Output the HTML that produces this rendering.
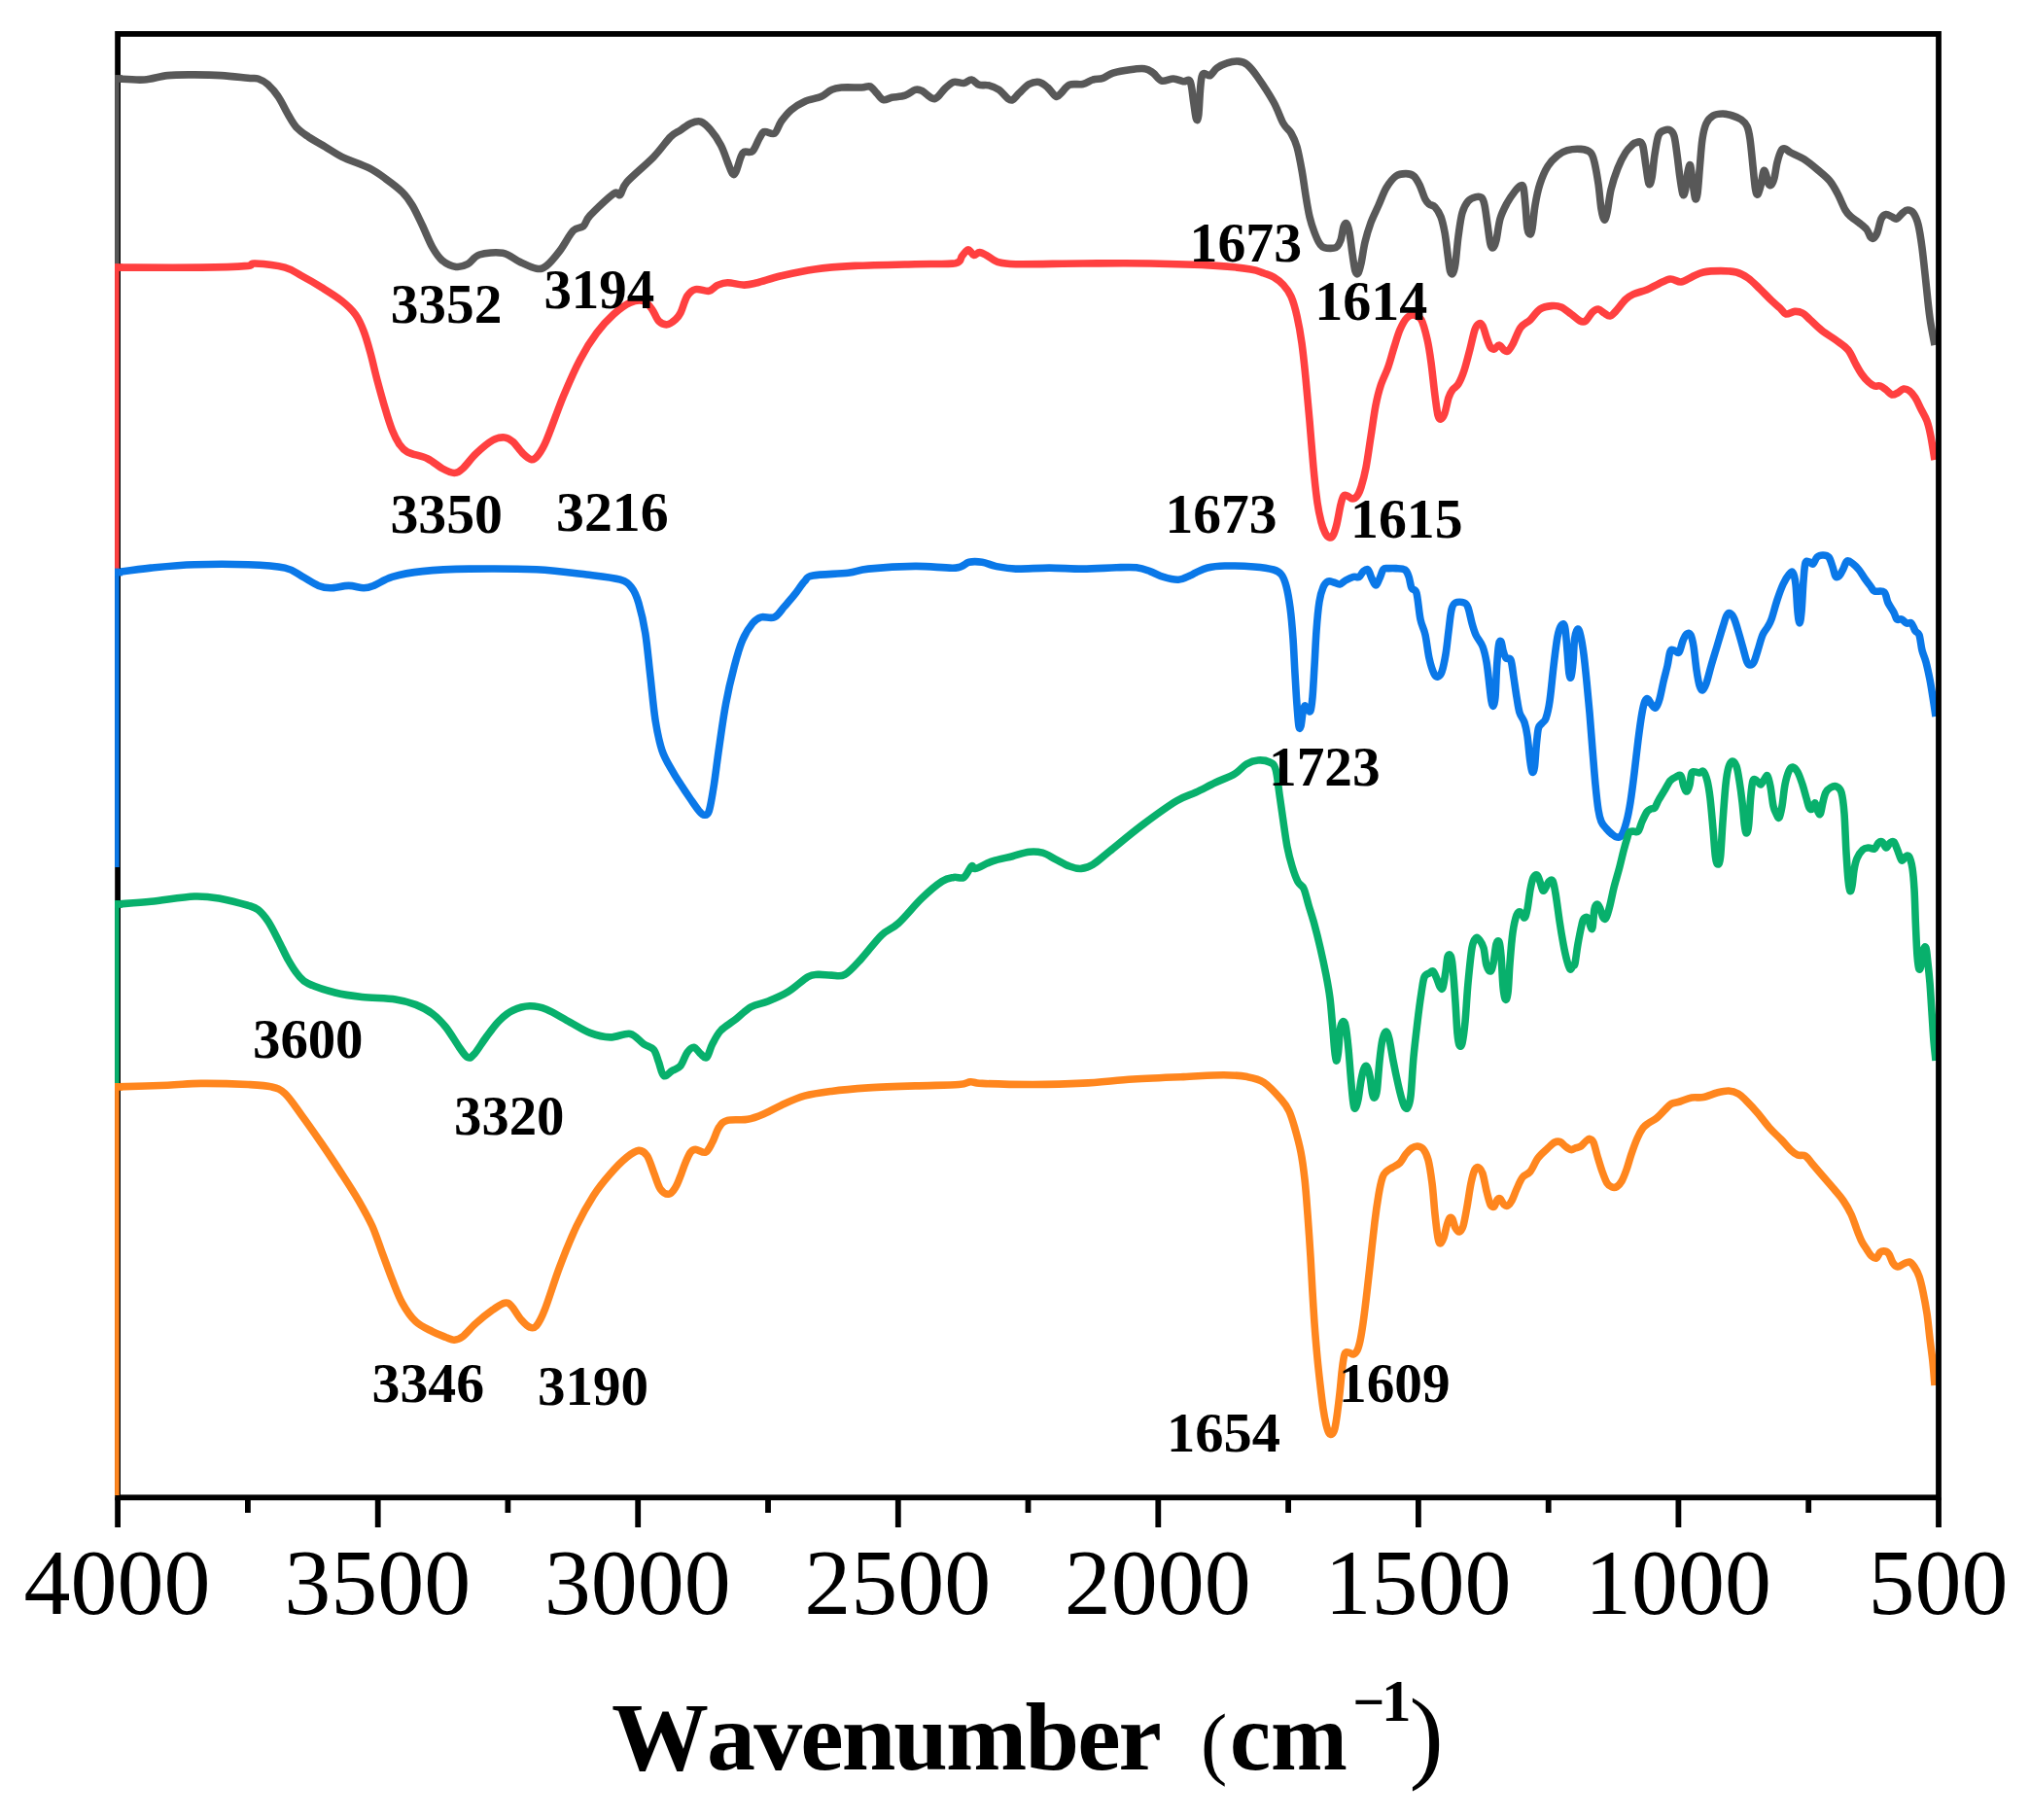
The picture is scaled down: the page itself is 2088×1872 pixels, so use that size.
<!DOCTYPE html>
<html lang="en"><head><meta charset="utf-8"><title>FTIR spectra</title>
<style>html,body{margin:0;padding:0;background:#fff}body{width:2088px;height:1872px;overflow:hidden}svg{display:block}text{font-family:"Liberation Serif",serif;fill:#000}.lab{font-weight:bold;font-size:56px}.tick{font-size:96px;text-anchor:middle}.title{font-weight:bold;font-size:100px}</style></head><body>
<svg width="2088" height="1872" viewBox="0 0 2088 1872">
<rect width="2088" height="1872" fill="#fff"/>
<defs><clipPath id="pc"><rect x="118.1" y="34.9" width="1875.9" height="1505.4"/></clipPath></defs>
<path d="M121.1 1540.3 V1571.0M254.9 1540.3 V1556.0M388.7 1540.3 V1571.0M522.4 1540.3 V1556.0M656.2 1540.3 V1571.0M790.0 1540.3 V1556.0M923.8 1540.3 V1571.0M1057.5 1540.3 V1556.0M1191.3 1540.3 V1571.0M1325.1 1540.3 V1556.0M1458.9 1540.3 V1571.0M1592.7 1540.3 V1556.0M1726.4 1540.3 V1571.0M1860.2 1540.3 V1556.0M1994.0 1540.3 V1571.0" stroke="#000" stroke-width="5.8" fill="none"/>
<g clip-path="url(#pc)" fill="none" stroke-linejoin="round" stroke-linecap="butt">
<path d="M120.7 81.0C125.3 81.2 139.7 82.6 148.3 82.0C156.9 81.5 163.8 78.4 172.4 77.6C181.0 76.7 190.8 76.9 200.0 76.9C209.2 76.9 218.4 77.0 227.6 77.6C236.8 78.1 248.9 79.7 255.2 80.3C261.5 80.9 262.1 79.9 265.5 81.0C269.0 82.1 272.4 84.2 275.9 87.2C279.3 90.3 282.8 94.1 286.2 99.3C289.7 104.4 293.4 112.9 296.6 118.2C299.7 123.6 301.7 127.6 305.2 131.3C308.6 135.1 312.4 137.4 317.2 140.7C322.1 143.9 328.7 147.6 334.5 151.0C340.2 154.4 344.3 157.7 351.7 161.3C359.2 165.0 371.8 169.0 379.3 172.7C386.8 176.5 390.8 179.6 396.6 183.8C402.3 187.9 409.2 193.0 413.8 197.6C418.4 202.1 420.7 205.6 424.1 211.3C427.6 217.1 431.0 224.9 434.5 232.0C437.9 239.2 441.4 248.4 444.8 254.4C448.3 260.5 451.1 264.9 455.2 268.2C459.2 271.6 464.7 273.9 469.0 274.4C473.3 275.0 477.0 273.8 481.0 271.7C485.1 269.6 487.1 263.9 493.1 262.0C499.1 260.1 510.3 259.1 517.2 260.3C524.1 261.5 528.7 266.6 534.5 269.3C540.2 271.9 547.1 275.5 551.7 276.2C556.3 276.9 558.0 276.5 562.1 273.4C566.1 270.4 571.3 263.9 575.9 257.9C580.5 251.9 585.6 241.4 589.7 237.2C593.7 233.0 597.1 235.3 600.0 232.7C602.9 230.1 601.7 227.3 606.9 221.7C612.1 216.1 625.9 202.8 631.0 199.3C636.2 195.7 635.6 202.3 637.9 200.3C640.2 198.3 639.1 193.7 644.8 187.2C650.6 180.7 664.9 169.1 672.4 161.3C679.9 153.6 685.1 145.3 689.7 140.7C694.3 136.1 696.6 136.1 700.0 133.8C703.4 131.5 706.9 128.3 710.3 126.9C713.8 125.4 717.2 124.0 720.7 125.1C724.1 126.3 727.6 129.7 731.0 133.8C734.5 137.8 738.5 143.8 741.4 149.3C744.3 154.7 746.3 161.6 748.3 166.5C750.3 171.4 752.0 176.9 753.4 178.6C754.9 180.3 755.5 179.7 756.9 176.9C758.3 174.0 760.6 164.8 762.1 161.3C763.5 157.9 763.5 157.1 765.5 156.2C767.5 155.2 771.6 157.8 774.1 155.5C776.7 153.2 779.0 145.7 781.0 142.4C783.0 139.0 783.6 136.3 786.2 135.5C788.8 134.6 793.7 138.9 796.6 137.2C799.4 135.5 800.6 129.2 803.4 125.1C806.3 121.1 809.8 116.5 813.8 113.1C817.8 109.6 822.4 106.7 827.6 104.4C832.8 102.1 840.2 101.3 844.8 99.3C849.4 97.3 851.7 93.9 855.2 92.4C858.6 90.8 860.3 90.4 865.5 90.0C870.7 89.6 881.3 90.1 886.2 90.0C891.1 89.8 892.2 88.0 894.8 88.9C897.4 89.9 899.4 93.5 901.7 95.8C904.0 98.1 906.0 102.0 908.6 102.7C911.2 103.5 913.5 101.1 917.2 100.3C921.0 99.6 927.0 99.6 931.0 98.2C935.1 96.9 938.5 93.2 941.4 92.4C944.3 91.6 945.4 92.0 948.3 93.4C951.1 94.9 956.0 99.9 958.6 101.0C961.2 102.1 961.5 102.0 963.8 100.3C966.1 98.6 969.5 93.3 972.4 90.7C975.3 88.0 977.9 85.3 981.0 84.4C984.2 83.6 988.3 85.9 991.4 85.5C994.4 85.1 996.7 81.7 999.3 82.0C1001.9 82.3 1003.9 86.2 1006.9 87.2C1009.9 88.2 1013.8 87.0 1017.2 87.9C1020.7 88.8 1024.4 90.2 1027.6 92.4C1030.7 94.6 1033.9 99.3 1036.2 101.0C1038.5 102.7 1039.4 103.6 1041.4 102.7C1043.4 101.9 1045.4 98.5 1048.3 95.8C1051.1 93.1 1055.2 88.4 1058.6 86.5C1062.1 84.6 1065.8 83.9 1069.0 84.4C1072.1 85.0 1074.7 87.5 1077.6 90.0C1080.5 92.4 1083.9 98.3 1086.2 99.3C1088.5 100.3 1089.1 97.8 1091.4 95.8C1093.7 93.8 1096.3 88.8 1100.0 87.2C1103.7 85.7 1109.8 87.4 1113.8 86.5C1117.8 85.7 1120.7 83.1 1124.1 82.0C1127.6 81.0 1131.0 81.5 1134.5 80.3C1137.9 79.2 1140.2 76.6 1144.8 75.1C1149.4 73.7 1156.6 72.4 1162.1 71.7C1167.5 70.9 1173.6 70.1 1177.6 70.7C1181.6 71.2 1183.3 73.1 1186.2 75.1C1189.1 77.2 1191.4 82.1 1194.8 83.1C1198.3 84.0 1203.2 80.9 1206.9 81.0C1210.6 81.1 1214.4 83.3 1217.2 83.8C1220.1 84.2 1222.4 80.3 1224.1 83.8C1225.9 87.2 1226.6 98.1 1227.6 104.4C1228.6 110.8 1229.5 119.4 1230.3 121.7C1231.2 124.0 1231.8 125.4 1232.8 118.2C1233.7 111.1 1234.2 85.4 1236.2 78.6C1238.2 71.8 1242.2 79.0 1244.8 77.6C1247.4 76.1 1248.9 72.1 1251.7 70.0C1254.6 67.8 1258.3 65.9 1262.1 64.8C1265.8 63.6 1270.7 62.8 1274.1 63.1C1277.6 63.4 1279.6 63.9 1282.8 66.5C1285.9 69.1 1288.6 72.2 1293.1 78.6C1297.6 85.0 1305.5 96.9 1310.0 105.0C1314.5 113.1 1317.0 121.7 1320.0 127.0C1323.0 132.3 1325.7 133.0 1328.0 137.0C1330.3 141.0 1332.2 144.7 1334.0 151.0C1335.8 157.3 1337.5 166.7 1339.0 175.0C1340.5 183.3 1341.7 193.0 1343.0 201.0C1344.3 209.0 1345.5 216.7 1347.0 223.0C1348.5 229.3 1350.3 234.5 1352.0 239.0C1353.7 243.5 1355.3 247.4 1357.0 250.0C1358.7 252.6 1359.2 253.8 1362.0 254.6C1364.8 255.4 1371.2 255.9 1374.0 254.6C1376.8 253.3 1377.7 250.6 1379.0 247.0C1380.3 243.4 1381.0 235.8 1382.0 233.0C1383.0 230.2 1384.0 229.0 1385.0 230.0C1386.0 231.0 1387.0 233.8 1388.0 239.0C1389.0 244.2 1390.0 254.3 1391.0 261.0C1392.0 267.7 1393.0 275.7 1394.0 279.0C1395.0 282.3 1396.0 282.3 1397.0 281.0C1398.0 279.7 1398.8 276.3 1400.0 271.0C1401.2 265.7 1402.3 256.0 1404.0 249.0C1405.7 242.0 1407.7 235.3 1410.0 229.0C1412.3 222.7 1415.3 217.0 1418.0 211.0C1420.7 205.0 1423.0 198.0 1426.0 193.0C1429.0 188.0 1432.7 183.4 1436.0 181.0C1439.3 178.6 1443.0 178.6 1446.0 178.6C1449.0 178.6 1451.7 179.1 1454.0 181.0C1456.3 182.9 1458.0 186.0 1460.0 190.0C1462.0 194.0 1464.3 201.7 1466.0 205.0C1467.7 208.3 1468.3 208.7 1470.0 210.0C1471.7 211.3 1474.0 210.8 1476.0 213.0C1478.0 215.2 1480.3 218.7 1482.0 223.0C1483.7 227.3 1484.8 232.7 1486.0 239.0C1487.2 245.3 1488.1 254.3 1489.0 261.0C1489.9 267.7 1490.7 275.7 1491.6 279.0C1492.5 282.3 1493.5 282.3 1494.4 281.0C1495.3 279.7 1496.1 277.3 1497.0 271.0C1497.9 264.7 1498.8 251.7 1500.0 243.0C1501.2 234.3 1502.3 225.0 1504.0 219.0C1505.7 213.0 1507.7 209.7 1510.0 207.0C1512.3 204.3 1515.7 203.2 1518.0 202.6C1520.3 202.0 1522.5 202.0 1524.0 203.4C1525.5 204.8 1526.0 206.4 1527.0 211.0C1528.0 215.6 1529.0 224.3 1530.0 231.0C1531.0 237.7 1532.0 247.1 1533.0 251.0C1534.0 254.9 1535.0 255.3 1536.0 254.6C1537.0 253.9 1537.8 251.9 1539.0 247.0C1540.2 242.1 1541.2 231.3 1543.0 225.0C1544.8 218.7 1547.5 213.7 1550.0 209.0C1552.5 204.3 1555.7 200.0 1558.0 197.0C1560.3 194.0 1562.5 191.7 1564.0 191.0C1565.5 190.3 1566.2 189.7 1567.0 193.0C1567.8 196.3 1568.3 204.0 1569.0 211.0C1569.7 218.0 1570.2 230.0 1571.0 235.0C1571.8 240.0 1572.8 241.0 1573.6 241.0C1574.4 241.0 1575.1 240.0 1576.0 235.0C1576.9 230.0 1577.7 218.7 1579.0 211.0C1580.3 203.3 1581.8 195.7 1584.0 189.0C1586.2 182.3 1589.0 175.8 1592.0 171.0C1595.0 166.2 1598.7 162.7 1602.0 160.0C1605.3 157.3 1608.0 155.7 1612.0 154.6C1616.0 153.5 1622.0 153.0 1626.0 153.4C1630.0 153.8 1633.7 154.7 1636.0 157.0C1638.3 159.3 1638.7 161.7 1640.0 167.0C1641.3 172.3 1642.8 181.0 1644.0 189.0C1645.2 197.0 1646.0 208.8 1647.0 215.0C1648.0 221.2 1649.0 225.3 1650.0 226.0C1651.0 226.7 1651.8 224.2 1653.0 219.0C1654.2 213.8 1655.2 202.7 1657.0 195.0C1658.8 187.3 1661.5 179.3 1664.0 173.0C1666.5 166.7 1669.3 161.2 1672.0 157.0C1674.7 152.8 1678.3 149.7 1680.0 148.0C1681.7 146.3 1680.8 147.3 1682.0 147.0C1683.2 146.7 1685.7 145.3 1687.0 146.0C1688.3 146.7 1689.0 146.8 1690.0 151.0C1691.0 155.2 1692.0 164.7 1693.0 171.0C1694.0 177.3 1695.0 187.0 1696.0 189.0C1697.0 191.0 1698.0 188.0 1699.0 183.0C1700.0 178.0 1700.8 166.3 1702.0 159.0C1703.2 151.7 1704.3 143.2 1706.0 139.0C1707.7 134.8 1710.0 134.8 1712.0 134.0C1714.0 133.2 1716.3 133.0 1718.0 134.0C1719.7 135.0 1720.8 135.8 1722.0 140.0C1723.2 144.2 1724.0 151.8 1725.0 159.0C1726.0 166.2 1727.0 176.2 1728.0 183.0C1729.0 189.8 1730.1 198.0 1731.0 200.0C1731.9 202.0 1732.8 198.8 1733.6 195.0C1734.4 191.2 1735.2 181.2 1736.0 177.0C1736.8 172.8 1737.8 168.3 1738.6 170.0C1739.4 171.7 1740.2 181.3 1741.0 187.0C1741.8 192.7 1742.8 202.0 1743.6 204.0C1744.4 206.0 1745.2 204.5 1746.0 199.0C1746.8 193.5 1747.6 180.3 1748.4 171.0C1749.2 161.7 1749.9 150.3 1751.0 143.0C1752.1 135.7 1753.2 131.0 1755.0 127.0C1756.8 123.0 1759.2 120.7 1762.0 119.0C1764.8 117.3 1768.7 117.0 1772.0 117.0C1775.3 117.0 1778.8 118.0 1782.0 119.0C1785.2 120.0 1788.5 121.2 1791.0 123.0C1793.5 124.8 1795.5 126.7 1797.0 130.0C1798.5 133.3 1799.0 136.2 1800.0 143.0C1801.0 149.8 1802.1 162.3 1803.0 171.0C1803.9 179.7 1804.8 190.2 1805.6 195.0C1806.4 199.8 1807.1 200.7 1808.0 200.0C1808.9 199.3 1810.0 195.0 1811.0 191.0C1812.0 187.0 1813.1 178.0 1814.0 176.0C1814.9 174.0 1815.6 176.8 1816.4 179.0C1817.2 181.2 1818.1 187.2 1819.0 189.0C1819.9 190.8 1821.0 191.0 1822.0 190.0C1823.0 189.0 1824.0 186.8 1825.0 183.0C1826.0 179.2 1826.8 171.7 1828.0 167.0C1829.2 162.3 1830.7 157.3 1832.0 155.0C1833.3 152.7 1834.3 152.7 1836.0 153.0C1837.7 153.3 1838.7 155.2 1842.0 157.0C1845.3 158.8 1851.3 161.0 1856.0 164.0C1860.7 167.0 1865.7 171.3 1870.0 175.0C1874.3 178.7 1878.7 182.0 1882.0 186.0C1885.3 190.0 1887.3 194.0 1890.0 199.0C1892.7 204.0 1895.7 212.0 1898.0 216.0C1900.3 220.0 1901.7 220.8 1904.0 223.0C1906.3 225.2 1909.3 226.8 1912.0 229.0C1914.7 231.2 1918.0 233.5 1920.0 236.0C1922.0 238.5 1922.8 242.5 1924.0 244.0C1925.2 245.5 1925.8 245.8 1927.0 245.0C1928.2 244.2 1929.7 242.3 1931.0 239.0C1932.3 235.7 1933.5 228.1 1935.0 225.0C1936.5 221.9 1938.2 220.9 1940.0 220.6C1941.8 220.3 1944.2 222.3 1946.0 223.0C1947.8 223.7 1949.2 225.7 1951.0 225.0C1952.8 224.3 1955.2 220.5 1957.0 219.0C1958.8 217.5 1960.2 216.0 1962.0 216.0C1963.8 216.0 1966.2 216.5 1968.0 219.0C1969.8 221.5 1971.5 225.0 1973.0 231.0C1974.5 237.0 1975.7 245.0 1977.0 255.0C1978.3 265.0 1979.7 279.0 1981.0 291.0C1982.3 303.0 1983.5 316.3 1985.0 327.0C1986.5 337.7 1989.2 350.3 1990.0 355.0" stroke="#585858" stroke-width="7.6"/>
<path d="M120.7 275.1C135.1 275.1 184.5 275.4 206.9 275.1C229.3 274.9 246.0 274.1 255.2 273.4C262.1 272.7 255.7 270.7 262.1 271.0C268.4 271.3 285.1 273.0 293.1 275.1C301.1 277.3 304.0 280.3 310.3 283.8C316.7 287.2 324.1 291.5 331.0 295.8C337.9 300.1 346.0 305.0 351.7 309.6C357.5 314.2 361.8 318.2 365.5 323.4C369.3 328.6 371.6 334.0 374.1 340.7C376.7 347.3 378.7 354.7 381.0 363.1C383.3 371.4 385.3 380.9 387.9 390.7C390.5 400.4 394.0 413.1 396.6 421.7C399.1 430.3 401.1 436.6 403.4 442.4C405.7 448.1 407.8 452.4 410.3 456.2C412.9 459.9 414.1 462.2 419.0 464.8C423.9 467.4 433.6 468.8 439.7 471.7C445.7 474.6 450.6 479.6 455.2 482.0C459.8 484.5 463.8 486.5 467.2 486.5C470.7 486.5 472.1 485.4 475.9 482.0C479.6 478.7 484.5 471.4 489.7 466.5C494.8 461.6 502.0 455.5 506.9 452.7C511.8 450.0 515.5 449.7 519.0 450.0C522.4 450.3 524.4 451.7 527.6 454.4C530.7 457.2 534.8 463.5 537.9 466.5C541.1 469.6 544.0 472.4 546.6 472.7C549.1 473.0 550.9 471.6 553.4 468.2C556.0 464.9 557.8 462.8 562.1 452.7C566.4 442.7 573.6 421.7 579.3 407.9C585.1 394.1 590.8 380.9 596.6 370.0C602.3 359.0 608.0 350.1 613.8 342.4C619.5 334.6 625.3 328.6 631.0 323.4C636.8 318.2 643.1 313.6 648.3 311.3C653.4 309.0 658.3 308.5 662.1 309.6C665.8 310.8 668.1 314.8 670.7 318.2C673.3 321.7 675.0 327.7 677.6 330.3C680.2 332.9 683.3 334.0 686.2 333.8C689.1 333.5 692.5 330.6 694.8 328.6C697.1 326.6 698.0 325.7 700.0 321.7C702.0 317.7 704.3 308.5 706.9 304.4C709.5 300.4 711.8 298.4 715.5 297.6C719.3 296.7 725.6 300.0 729.3 299.3C733.0 298.6 734.8 294.9 737.9 293.4C741.1 292.0 743.7 290.7 748.3 290.7C752.9 290.6 760.3 293.1 765.5 293.1C770.7 293.1 773.0 292.2 779.3 290.7C785.6 289.1 793.7 286.1 803.4 283.8C813.2 281.5 825.3 278.6 837.9 276.9C850.6 275.1 862.1 274.3 879.3 273.4C896.6 272.6 924.1 272.1 941.4 271.7C958.6 271.2 974.7 272.1 982.8 270.7C989.7 269.2 987.5 265.4 989.7 263.1C991.8 260.8 993.9 257.0 995.9 256.9C997.9 256.7 999.8 261.9 1001.7 262.4C1003.7 262.8 1005.3 259.5 1007.6 259.6C1009.9 259.7 1012.5 261.5 1015.5 263.1C1018.6 264.7 1021.0 267.8 1025.9 269.3C1030.7 270.7 1030.2 271.4 1044.8 271.7C1059.5 272.0 1090.8 271.1 1113.8 271.0C1136.8 270.9 1159.8 270.6 1182.8 271.0C1205.7 271.4 1234.5 272.4 1251.7 273.4C1269.0 274.4 1278.2 275.6 1286.2 276.9C1294.3 278.1 1296.0 279.6 1300.0 281.0C1304.0 282.4 1306.7 283.0 1310.0 285.0C1313.3 287.0 1317.0 289.7 1320.0 293.0C1323.0 296.3 1325.7 299.7 1328.0 305.0C1330.3 310.3 1332.2 317.0 1334.0 325.0C1335.8 333.0 1337.5 342.3 1339.0 353.0C1340.5 363.7 1341.7 375.7 1343.0 389.0C1344.3 402.3 1345.7 417.7 1347.0 433.0C1348.3 448.3 1349.7 467.0 1351.0 481.0C1352.3 495.0 1353.7 507.7 1355.0 517.0C1356.3 526.3 1357.7 531.8 1359.0 537.0C1360.3 542.2 1361.7 545.4 1363.0 548.0C1364.3 550.6 1365.7 552.1 1367.0 552.6C1368.3 553.1 1369.7 553.3 1371.0 551.0C1372.3 548.7 1373.7 544.3 1375.0 539.0C1376.3 533.7 1377.8 523.8 1379.0 519.0C1380.2 514.2 1380.8 511.5 1382.0 510.0C1383.2 508.5 1384.5 509.5 1386.0 510.0C1387.5 510.5 1389.3 513.0 1391.0 513.0C1392.7 513.0 1394.5 512.0 1396.0 510.0C1397.5 508.0 1398.5 505.8 1400.0 501.0C1401.5 496.2 1403.3 489.7 1405.0 481.0C1406.7 472.3 1408.3 459.7 1410.0 449.0C1411.7 438.3 1413.3 425.7 1415.0 417.0C1416.7 408.3 1417.8 403.7 1420.0 397.0C1422.2 390.3 1425.7 383.7 1428.0 377.0C1430.3 370.3 1432.0 363.3 1434.0 357.0C1436.0 350.7 1437.8 344.0 1440.0 339.0C1442.2 334.0 1444.7 329.5 1447.0 327.0C1449.3 324.5 1451.5 323.7 1454.0 324.0C1456.5 324.3 1459.7 324.8 1462.0 329.0C1464.3 333.2 1466.3 341.7 1468.0 349.0C1469.7 356.3 1470.7 363.3 1472.0 373.0C1473.3 382.7 1474.8 398.0 1476.0 407.0C1477.2 416.0 1478.0 423.0 1479.0 427.0C1480.0 431.0 1480.8 431.3 1482.0 431.0C1483.2 430.7 1484.7 428.7 1486.0 425.0C1487.3 421.3 1488.7 413.0 1490.0 409.0C1491.3 405.0 1492.3 403.3 1494.0 401.0C1495.7 398.7 1498.0 398.3 1500.0 395.0C1502.0 391.7 1504.0 387.0 1506.0 381.0C1508.0 375.0 1510.2 366.0 1512.0 359.0C1513.8 352.0 1515.5 343.3 1517.0 339.0C1518.5 334.7 1519.7 333.7 1521.0 333.0C1522.3 332.3 1523.7 332.7 1525.0 335.0C1526.3 337.3 1527.7 343.3 1529.0 347.0C1530.3 350.7 1531.7 355.0 1533.0 357.0C1534.3 359.0 1535.5 359.3 1537.0 359.0C1538.5 358.7 1540.3 354.8 1542.0 355.0C1543.7 355.2 1545.5 359.0 1547.0 360.0C1548.5 361.0 1549.5 362.0 1551.0 361.0C1552.5 360.0 1553.8 358.0 1556.0 354.0C1558.2 350.0 1561.0 341.2 1564.0 337.0C1567.0 332.8 1570.7 332.2 1574.0 329.0C1577.3 325.8 1580.3 320.4 1584.0 318.0C1587.7 315.6 1592.3 314.9 1596.0 314.6C1599.7 314.3 1602.7 314.6 1606.0 316.0C1609.3 317.4 1612.8 320.7 1616.0 323.0C1619.2 325.3 1622.5 328.8 1625.0 330.0C1627.5 331.2 1628.8 331.5 1631.0 330.0C1633.2 328.5 1635.8 323.0 1638.0 321.0C1640.2 319.0 1642.0 317.8 1644.0 318.0C1646.0 318.2 1648.0 320.8 1650.0 322.0C1652.0 323.2 1654.0 325.3 1656.0 325.0C1658.0 324.7 1659.3 322.8 1662.0 320.0C1664.7 317.2 1669.0 310.9 1672.0 308.0C1675.0 305.1 1676.3 304.3 1680.0 302.6C1683.7 300.9 1689.7 299.8 1694.0 298.0C1698.3 296.2 1702.0 293.8 1706.0 292.0C1710.0 290.2 1714.2 287.3 1718.0 287.0C1721.8 286.7 1725.3 290.3 1729.0 290.0C1732.7 289.7 1736.2 286.7 1740.0 285.0C1743.8 283.3 1747.0 281.1 1752.0 280.0C1757.0 278.9 1764.3 278.6 1770.0 278.6C1775.7 278.6 1781.3 278.8 1786.0 280.0C1790.7 281.2 1794.0 283.2 1798.0 286.0C1802.0 288.8 1806.0 293.2 1810.0 297.0C1814.0 300.8 1818.5 305.7 1822.0 309.0C1825.5 312.3 1828.5 314.7 1831.0 317.0C1833.5 319.3 1834.5 322.4 1837.0 323.0C1839.5 323.6 1843.2 320.6 1846.0 320.4C1848.8 320.2 1851.3 320.6 1854.0 322.0C1856.7 323.4 1858.7 326.0 1862.0 329.0C1865.3 332.0 1869.3 336.3 1874.0 340.0C1878.7 343.7 1885.5 347.7 1890.0 351.0C1894.5 354.3 1898.0 356.3 1901.0 360.0C1904.0 363.7 1905.7 368.8 1908.0 373.0C1910.3 377.2 1912.7 381.7 1915.0 385.0C1917.3 388.3 1919.8 391.0 1922.0 393.0C1924.2 395.0 1926.0 396.3 1928.0 397.0C1930.0 397.7 1932.0 396.3 1934.0 397.0C1936.0 397.7 1938.0 399.5 1940.0 401.0C1942.0 402.5 1944.0 405.5 1946.0 406.0C1948.0 406.5 1950.0 405.0 1952.0 404.0C1954.0 403.0 1956.0 400.3 1958.0 400.0C1960.0 399.7 1962.0 400.5 1964.0 402.0C1966.0 403.5 1968.0 405.8 1970.0 409.0C1972.0 412.2 1974.0 417.0 1976.0 421.0C1978.0 425.0 1980.3 428.3 1982.0 433.0C1983.7 437.7 1984.7 442.3 1986.0 449.0C1987.3 455.7 1989.3 469.0 1990.0 473.0" stroke="#ff4040" stroke-width="7.6"/>
<path d="M120.7 588.6C126.4 587.8 142.0 585.4 155.2 584.1C168.4 582.8 183.3 581.2 200.0 580.7C216.7 580.1 239.7 580.1 255.2 580.7C270.7 581.2 283.9 582.1 293.1 584.1C302.3 586.1 304.6 589.7 310.3 592.7C316.1 595.8 322.7 600.4 327.6 602.4C332.5 604.4 334.5 604.8 339.7 604.8C344.8 604.8 352.9 602.4 358.6 602.4C364.4 602.4 369.8 604.8 374.1 604.8C378.4 604.8 379.6 604.3 384.5 602.4C389.4 600.5 395.1 595.9 403.4 593.4C411.8 590.9 421.3 588.9 434.5 587.6C447.7 586.2 463.2 585.4 482.8 585.1C502.3 584.9 531.6 584.9 551.7 585.8C571.8 586.8 589.1 589.3 603.4 591.0C617.8 592.7 630.2 593.9 637.9 596.2C645.7 598.5 646.8 600.8 650.0 604.8C653.2 608.8 654.6 612.6 656.9 620.3C659.2 628.1 661.8 638.7 663.8 651.3C665.8 664.0 667.2 681.2 669.0 696.2C670.7 711.1 672.1 728.4 674.1 741.0C676.1 753.6 678.2 763.4 681.0 772.0C683.9 780.7 688.2 787.0 691.4 792.7C694.5 798.5 696.8 801.6 700.0 806.5C703.2 811.4 707.2 817.4 710.3 822.0C713.5 826.6 716.7 831.4 719.0 834.1C721.3 836.8 722.4 838.2 724.1 838.2C725.9 838.2 727.6 839.4 729.3 834.1C731.0 828.8 732.8 817.4 734.5 806.5C736.2 795.6 737.6 782.4 739.7 768.6C741.7 754.8 744.0 737.6 746.6 723.8C749.1 710.0 752.3 696.7 755.2 685.8C758.0 674.9 760.6 665.7 763.8 658.2C767.0 650.8 771.0 644.9 774.1 641.0C777.3 637.1 779.0 635.8 782.8 634.8C786.5 633.8 792.5 636.6 796.6 634.8C800.6 633.0 803.4 627.6 806.9 623.8C810.3 619.9 813.8 616.0 817.2 611.7C820.7 607.4 824.4 601.2 827.6 597.9C830.7 594.6 828.7 593.5 836.2 592.0C843.7 590.6 862.9 590.4 872.4 589.3C881.9 588.1 881.6 586.3 893.1 585.1C904.6 584.0 926.4 582.6 941.4 582.4C956.3 582.2 973.6 584.8 982.8 584.1C992.0 583.4 992.0 579.2 996.6 578.2C1001.1 577.3 1005.7 577.6 1010.3 578.2C1014.9 578.9 1018.4 581.2 1024.1 582.4C1029.9 583.5 1035.6 584.9 1044.8 585.1C1054.0 585.4 1067.8 584.1 1079.3 584.1C1090.8 584.1 1102.3 585.2 1113.8 585.1C1125.3 585.1 1139.1 584.0 1148.3 583.8C1157.5 583.5 1163.2 583.1 1169.0 583.8C1174.7 584.4 1178.2 585.9 1182.8 587.6C1187.4 589.2 1191.7 592.0 1196.6 593.4C1201.4 594.9 1207.5 596.4 1212.1 596.2C1216.7 595.9 1221.1 593.2 1224.1 592.0C1227.1 590.8 1227.0 590.3 1230.0 589.0C1233.0 587.7 1237.0 585.2 1242.0 584.0C1247.0 582.8 1252.0 582.2 1260.0 582.0C1268.0 581.8 1281.7 582.3 1290.0 583.0C1298.3 583.7 1305.3 584.7 1310.0 586.0C1314.7 587.3 1315.8 588.2 1318.0 591.0C1320.2 593.8 1321.5 597.3 1323.0 603.0C1324.5 608.7 1325.8 616.0 1327.0 625.0C1328.2 634.0 1329.2 645.7 1330.0 657.0C1330.8 668.3 1331.3 681.7 1332.0 693.0C1332.7 704.3 1333.3 716.0 1334.0 725.0C1334.7 734.0 1335.3 743.3 1336.0 747.0C1336.7 750.7 1337.3 749.3 1338.0 747.0C1338.7 744.7 1339.3 736.5 1340.0 733.0C1340.7 729.5 1341.2 726.5 1342.0 726.0C1342.8 725.5 1344.0 729.2 1345.0 730.0C1346.0 730.8 1347.2 733.2 1348.0 731.0C1348.8 728.8 1349.3 724.7 1350.0 717.0C1350.7 709.3 1351.3 696.3 1352.0 685.0C1352.7 673.7 1353.2 660.0 1354.0 649.0C1354.8 638.0 1355.8 626.5 1357.0 619.0C1358.2 611.5 1359.5 607.5 1361.0 604.0C1362.5 600.5 1364.2 598.8 1366.0 598.0C1367.8 597.2 1370.0 598.5 1372.0 599.0C1374.0 599.5 1376.0 601.3 1378.0 601.0C1380.0 600.7 1381.7 598.3 1384.0 597.0C1386.3 595.7 1389.7 594.0 1392.0 593.4C1394.3 592.8 1396.3 594.3 1398.0 593.4C1399.7 592.5 1400.5 589.2 1402.0 588.0C1403.5 586.8 1405.5 584.8 1407.0 586.0C1408.5 587.2 1409.7 592.3 1411.0 595.0C1412.3 597.7 1413.7 602.0 1415.0 602.0C1416.3 602.0 1417.7 597.8 1419.0 595.0C1420.3 592.2 1421.5 587.1 1423.0 585.4C1424.5 583.7 1425.8 584.7 1428.0 584.6C1430.2 584.5 1433.2 584.4 1436.0 584.6C1438.8 584.8 1442.8 584.6 1445.0 586.0C1447.2 587.4 1447.8 589.8 1449.0 593.0C1450.2 596.2 1450.7 602.2 1452.0 605.0C1453.3 607.8 1455.5 604.7 1457.0 610.0C1458.5 615.3 1459.5 629.8 1461.0 637.0C1462.5 644.2 1464.5 646.3 1466.0 653.0C1467.5 659.7 1468.5 670.3 1470.0 677.0C1471.5 683.7 1473.5 689.8 1475.0 693.0C1476.5 696.2 1477.7 696.3 1479.0 696.0C1480.3 695.7 1481.7 694.8 1483.0 691.0C1484.3 687.2 1485.8 680.0 1487.0 673.0C1488.2 666.0 1489.0 656.7 1490.0 649.0C1491.0 641.3 1491.8 631.8 1493.0 627.0C1494.2 622.2 1494.8 621.2 1497.0 620.0C1499.2 618.8 1503.8 619.2 1506.0 620.0C1508.2 620.8 1508.7 621.5 1510.0 625.0C1511.3 628.5 1512.7 636.3 1514.0 641.0C1515.3 645.7 1516.2 649.0 1518.0 653.0C1519.8 657.0 1523.2 660.3 1525.0 665.0C1526.8 669.7 1527.8 674.3 1529.0 681.0C1530.2 687.7 1531.2 698.3 1532.0 705.0C1532.8 711.7 1533.3 717.5 1534.0 721.0C1534.7 724.5 1535.3 726.7 1536.0 726.0C1536.7 725.3 1537.4 723.8 1538.0 717.0C1538.6 710.2 1539.0 694.0 1539.6 685.0C1540.2 676.0 1540.9 667.2 1541.6 663.0C1542.3 658.8 1543.3 659.0 1544.0 660.0C1544.7 661.0 1545.2 666.2 1546.0 669.0C1546.8 671.8 1547.7 675.3 1549.0 677.0C1550.3 678.7 1552.7 675.7 1554.0 679.0C1555.3 682.3 1556.0 690.7 1557.0 697.0C1558.0 703.3 1559.0 711.0 1560.0 717.0C1561.0 723.0 1561.7 728.7 1563.0 733.0C1564.3 737.3 1566.7 739.0 1568.0 743.0C1569.3 747.0 1570.1 750.7 1571.0 757.0C1571.9 763.3 1572.8 774.8 1573.6 781.0C1574.4 787.2 1575.2 792.7 1576.0 794.0C1576.8 795.3 1577.7 793.8 1578.4 789.0C1579.1 784.2 1579.7 771.7 1580.4 765.0C1581.1 758.3 1581.5 752.5 1582.4 749.0C1583.3 745.5 1584.7 745.7 1586.0 744.0C1587.3 742.3 1588.7 742.8 1590.0 739.0C1591.3 735.2 1592.7 730.0 1594.0 721.0C1595.3 712.0 1596.7 696.0 1598.0 685.0C1599.3 674.0 1600.7 662.0 1602.0 655.0C1603.3 648.0 1604.7 644.7 1606.0 643.0C1607.3 641.3 1608.6 640.7 1609.6 645.0C1610.6 649.3 1611.3 661.0 1612.0 669.0C1612.7 677.0 1613.3 688.5 1614.0 693.0C1614.7 697.5 1615.3 698.0 1616.0 696.0C1616.7 694.0 1617.4 687.5 1618.0 681.0C1618.6 674.5 1618.8 662.7 1619.6 657.0C1620.4 651.3 1621.9 647.3 1623.0 647.0C1624.1 646.7 1625.0 650.7 1626.0 655.0C1627.0 659.3 1628.0 665.3 1629.0 673.0C1630.0 680.7 1631.0 691.0 1632.0 701.0C1633.0 711.0 1634.0 721.3 1635.0 733.0C1636.0 744.7 1637.0 758.7 1638.0 771.0C1639.0 783.3 1640.0 796.7 1641.0 807.0C1642.0 817.3 1643.0 826.7 1644.0 833.0C1645.0 839.3 1645.7 841.8 1647.0 845.0C1648.3 848.2 1650.2 849.8 1652.0 852.0C1653.8 854.2 1656.2 856.5 1658.0 858.0C1659.8 859.5 1661.3 860.8 1663.0 861.0C1664.7 861.2 1666.3 861.7 1668.0 859.0C1669.7 856.3 1671.5 850.7 1673.0 845.0C1674.5 839.3 1675.7 833.3 1677.0 825.0C1678.3 816.7 1679.7 805.7 1681.0 795.0C1682.3 784.3 1683.7 771.3 1685.0 761.0C1686.3 750.7 1687.8 739.7 1689.0 733.0C1690.2 726.3 1691.0 723.3 1692.0 721.0C1693.0 718.7 1693.8 718.3 1695.0 719.0C1696.2 719.7 1697.7 723.5 1699.0 725.0C1700.3 726.5 1701.7 729.0 1703.0 728.0C1704.3 727.0 1705.7 723.5 1707.0 719.0C1708.3 714.5 1709.7 706.7 1711.0 701.0C1712.3 695.3 1713.8 690.2 1715.0 685.0C1716.2 679.8 1716.8 672.7 1718.0 670.0C1719.2 667.3 1720.5 668.8 1722.0 669.0C1723.5 669.2 1725.5 672.7 1727.0 671.0C1728.5 669.3 1729.7 662.2 1731.0 659.0C1732.3 655.8 1733.7 653.0 1735.0 652.0C1736.3 651.0 1737.8 650.8 1739.0 653.0C1740.2 655.2 1741.0 659.0 1742.0 665.0C1743.0 671.0 1744.0 682.3 1745.0 689.0C1746.0 695.7 1747.0 701.5 1748.0 705.0C1749.0 708.5 1749.8 710.3 1751.0 710.0C1752.2 709.7 1753.5 707.2 1755.0 703.0C1756.5 698.8 1758.2 691.3 1760.0 685.0C1761.8 678.7 1764.0 671.7 1766.0 665.0C1768.0 658.3 1770.3 650.3 1772.0 645.0C1773.7 639.7 1774.7 635.3 1776.0 633.0C1777.3 630.7 1778.7 630.3 1780.0 631.0C1781.3 631.7 1782.5 633.3 1784.0 637.0C1785.5 640.7 1787.3 647.3 1789.0 653.0C1790.7 658.7 1792.7 666.3 1794.0 671.0C1795.3 675.7 1796.0 678.8 1797.0 681.0C1798.0 683.2 1798.8 684.0 1800.0 684.0C1801.2 684.0 1802.7 683.5 1804.0 681.0C1805.3 678.5 1806.5 673.7 1808.0 669.0C1809.5 664.3 1811.3 657.0 1813.0 653.0C1814.7 649.0 1816.5 647.7 1818.0 645.0C1819.5 642.3 1820.3 641.7 1822.0 637.0C1823.7 632.3 1826.0 623.0 1828.0 617.0C1830.0 611.0 1832.0 605.3 1834.0 601.0C1836.0 596.7 1838.3 593.0 1840.0 591.0C1841.7 589.0 1842.8 587.3 1844.0 589.0C1845.2 590.7 1846.2 594.3 1847.0 601.0C1847.8 607.7 1848.3 622.3 1849.0 629.0C1849.7 635.7 1850.3 641.0 1851.0 641.0C1851.7 641.0 1852.3 636.3 1853.0 629.0C1853.7 621.7 1854.3 605.3 1855.0 597.0C1855.7 588.7 1856.0 582.2 1857.0 579.0C1858.0 575.8 1859.7 577.8 1861.0 578.0C1862.3 578.2 1863.7 580.8 1865.0 580.0C1866.3 579.2 1867.3 574.5 1869.0 573.0C1870.7 571.5 1873.0 571.0 1875.0 571.0C1877.0 571.0 1879.3 571.0 1881.0 573.0C1882.7 575.0 1883.8 579.7 1885.0 583.0C1886.2 586.3 1886.8 591.5 1888.0 593.0C1889.2 594.5 1890.7 593.3 1892.0 592.0C1893.3 590.7 1894.7 587.5 1896.0 585.0C1897.3 582.5 1898.3 577.8 1900.0 577.0C1901.7 576.2 1904.0 578.5 1906.0 580.0C1908.0 581.5 1910.0 583.5 1912.0 586.0C1914.0 588.5 1916.0 592.2 1918.0 595.0C1920.0 597.8 1922.3 600.8 1924.0 603.0C1925.7 605.2 1925.7 607.0 1928.0 608.0C1930.3 609.0 1935.7 607.0 1938.0 609.0C1940.3 611.0 1940.3 616.5 1942.0 620.0C1943.7 623.5 1946.5 627.2 1948.0 630.0C1949.5 632.8 1949.7 635.8 1951.0 637.0C1952.3 638.2 1954.3 636.3 1956.0 637.0C1957.7 637.7 1959.3 640.3 1961.0 641.0C1962.7 641.7 1964.5 639.7 1966.0 641.0C1967.5 642.3 1968.7 647.0 1970.0 649.0C1971.3 651.0 1972.8 649.7 1974.0 653.0C1975.2 656.3 1975.8 664.3 1977.0 669.0C1978.2 673.7 1979.7 676.0 1981.0 681.0C1982.3 686.0 1983.8 693.0 1985.0 699.0C1986.2 705.0 1987.0 710.7 1988.0 717.0C1989.0 723.3 1990.5 733.7 1991.0 737.0" stroke="#0a78e8" stroke-width="7.6"/>
<path d="M120.7 930.0C126.4 929.5 142.0 928.5 155.2 927.2C168.4 925.9 187.9 922.5 200.0 922.0C212.1 921.6 218.4 922.9 227.6 924.4C236.8 926.0 248.9 929.4 255.2 931.3C261.5 933.2 262.1 933.1 265.5 935.8C269.0 938.6 272.4 942.7 275.9 947.9C279.3 953.1 282.8 960.3 286.2 966.9C289.7 973.5 293.1 981.5 296.6 987.6C300.0 993.6 303.4 999.0 306.9 1003.1C310.3 1007.1 310.9 1008.7 317.2 1011.7C323.6 1014.7 335.6 1018.7 344.8 1021.0C354.0 1023.3 362.1 1024.3 372.4 1025.5C382.8 1026.6 397.7 1026.6 406.9 1027.9C416.1 1029.2 421.3 1030.9 427.6 1033.4C433.9 1035.9 439.7 1038.9 444.8 1042.7C450.0 1046.6 454.0 1050.8 458.6 1056.5C463.2 1062.3 468.7 1072.0 472.4 1077.2C476.1 1082.4 478.4 1086.4 481.0 1087.6C483.6 1088.7 484.8 1087.6 487.9 1084.1C491.1 1080.7 495.7 1072.6 500.0 1066.9C504.3 1061.1 509.2 1054.2 513.8 1049.6C518.4 1045.0 522.4 1041.7 527.6 1039.3C532.8 1036.8 539.1 1035.0 544.8 1034.8C550.6 1034.6 555.2 1035.5 562.1 1038.2C569.0 1041.0 578.7 1047.3 586.2 1051.3C593.7 1055.4 600.0 1059.8 606.9 1062.4C613.8 1065.0 620.7 1066.7 627.6 1066.9C634.5 1067.0 642.5 1062.3 648.3 1063.4C654.0 1064.6 658.0 1071.1 662.1 1073.8C666.1 1076.5 669.8 1076.5 672.4 1079.6C675.0 1082.8 675.9 1088.2 677.6 1092.7C679.3 1097.2 680.5 1105.1 682.8 1106.5C685.1 1108.0 688.5 1103.1 691.4 1101.3C694.3 1099.6 697.4 1099.3 700.0 1096.2C702.6 1093.0 704.6 1085.5 706.9 1082.4C709.2 1079.2 711.5 1076.9 713.8 1077.2C716.1 1077.5 718.5 1082.4 720.7 1084.1C722.9 1085.8 724.9 1089.3 726.9 1087.6C728.9 1085.8 730.3 1078.4 732.8 1073.8C735.2 1069.2 737.6 1064.0 741.4 1060.0C745.1 1055.9 750.0 1053.6 755.2 1049.6C760.3 1045.6 766.7 1039.1 772.4 1035.8C778.2 1032.6 783.3 1032.6 789.7 1030.0C796.0 1027.4 803.4 1024.5 810.3 1020.3C817.2 1016.1 825.9 1007.8 831.0 1004.8C836.2 1001.8 837.4 1002.7 841.4 1002.4C845.4 1002.1 850.6 1003.1 855.2 1003.1C859.8 1003.1 863.8 1005.3 869.0 1002.4C874.1 999.5 879.9 992.6 886.2 985.8C892.5 979.0 900.6 967.7 906.9 961.7C913.2 955.7 917.2 955.9 924.1 949.6C931.0 943.3 940.8 930.9 948.3 923.8C955.7 916.6 963.5 910.1 969.0 906.5C974.4 903.0 977.3 903.1 981.0 902.4C984.8 901.7 988.3 904.3 991.4 902.4C994.4 900.5 997.3 892.5 999.3 891.0C1001.3 889.5 999.9 894.3 1003.4 893.4C1007.0 892.6 1014.4 888.0 1020.7 885.8C1027.0 883.7 1035.1 882.3 1041.4 880.7C1047.7 879.0 1053.4 876.7 1058.6 876.2C1063.8 875.6 1067.8 875.9 1072.4 877.2C1077.0 878.5 1081.6 881.8 1086.2 884.1C1090.8 886.4 1095.7 889.4 1100.0 891.0C1104.3 892.6 1108.0 893.7 1112.1 893.4C1116.1 893.1 1119.3 892.3 1124.1 889.3C1129.0 886.3 1132.8 882.4 1141.4 875.5C1150.0 868.6 1164.4 856.5 1175.9 847.9C1187.4 839.3 1201.3 829.2 1210.3 823.8C1219.4 818.3 1223.4 818.1 1230.0 815.0C1236.6 811.9 1243.3 808.2 1250.0 805.0C1256.7 801.8 1264.7 799.2 1270.0 796.0C1275.3 792.8 1278.0 788.3 1282.0 786.0C1286.0 783.7 1290.0 782.3 1294.0 782.0C1298.0 781.7 1303.0 782.5 1306.0 784.0C1309.0 785.5 1310.3 785.5 1312.0 791.0C1313.7 796.5 1314.7 808.0 1316.0 817.0C1317.3 826.0 1318.7 836.0 1320.0 845.0C1321.3 854.0 1322.5 863.3 1324.0 871.0C1325.5 878.7 1327.2 885.0 1329.0 891.0C1330.8 897.0 1333.0 903.2 1335.0 907.0C1337.0 910.8 1339.2 910.0 1341.0 914.0C1342.8 918.0 1344.2 924.8 1346.0 931.0C1347.8 937.2 1350.0 943.7 1352.0 951.0C1354.0 958.3 1356.0 966.3 1358.0 975.0C1360.0 983.7 1362.3 994.3 1364.0 1003.0C1365.7 1011.7 1366.9 1018.3 1368.0 1027.0C1369.1 1035.7 1369.8 1046.3 1370.6 1055.0C1371.4 1063.7 1372.0 1073.0 1372.6 1079.0C1373.2 1085.0 1373.8 1090.3 1374.4 1091.0C1375.0 1091.7 1375.7 1088.3 1376.4 1083.0C1377.1 1077.7 1377.6 1064.3 1378.4 1059.0C1379.2 1053.7 1380.1 1051.7 1381.0 1051.0C1381.9 1050.3 1383.0 1050.3 1384.0 1055.0C1385.0 1059.7 1386.1 1069.7 1387.0 1079.0C1387.9 1088.3 1388.8 1101.7 1389.6 1111.0C1390.4 1120.3 1391.3 1130.2 1392.0 1135.0C1392.7 1139.8 1393.2 1140.7 1394.0 1140.0C1394.8 1139.3 1396.0 1135.8 1397.0 1131.0C1398.0 1126.2 1399.0 1116.3 1400.0 1111.0C1401.0 1105.7 1402.0 1101.3 1403.0 1099.0C1404.0 1096.7 1405.0 1095.7 1406.0 1097.0C1407.0 1098.3 1408.1 1102.3 1409.0 1107.0C1409.9 1111.7 1410.8 1121.3 1411.6 1125.0C1412.4 1128.7 1413.2 1129.7 1414.0 1129.0C1414.8 1128.3 1415.6 1127.3 1416.4 1121.0C1417.2 1114.7 1418.1 1099.7 1419.0 1091.0C1419.9 1082.3 1420.9 1074.0 1422.0 1069.0C1423.1 1064.0 1424.4 1061.0 1425.6 1061.0C1426.8 1061.0 1427.8 1064.0 1429.0 1069.0C1430.2 1074.0 1431.5 1083.3 1433.0 1091.0C1434.5 1098.7 1436.5 1108.3 1438.0 1115.0C1439.5 1121.7 1440.8 1127.0 1442.0 1131.0C1443.2 1135.0 1444.0 1137.7 1445.0 1139.0C1446.0 1140.3 1447.0 1141.0 1448.0 1139.0C1449.0 1137.0 1450.0 1135.7 1451.0 1127.0C1452.0 1118.3 1452.8 1099.7 1454.0 1087.0C1455.2 1074.3 1456.7 1062.0 1458.0 1051.0C1459.3 1040.0 1460.8 1028.7 1462.0 1021.0C1463.2 1013.3 1463.7 1008.3 1465.0 1005.0C1466.3 1001.7 1468.5 1002.0 1470.0 1001.0C1471.5 1000.0 1472.7 998.0 1474.0 999.0C1475.3 1000.0 1476.8 1004.3 1478.0 1007.0C1479.2 1009.7 1480.0 1013.5 1481.0 1015.0C1482.0 1016.5 1483.0 1018.7 1484.0 1016.0C1485.0 1013.3 1486.2 1004.3 1487.0 999.0C1487.8 993.7 1488.2 986.7 1489.0 984.0C1489.8 981.3 1491.2 981.5 1492.0 983.0C1492.8 984.5 1493.2 985.0 1494.0 993.0C1494.8 1001.0 1496.2 1019.3 1497.0 1031.0C1497.8 1042.7 1498.3 1055.7 1499.0 1063.0C1499.7 1070.3 1500.2 1073.3 1501.0 1075.0C1501.8 1076.7 1503.0 1077.0 1504.0 1073.0C1505.0 1069.0 1506.0 1061.3 1507.0 1051.0C1508.0 1040.7 1508.8 1023.7 1510.0 1011.0C1511.2 998.3 1512.7 982.7 1514.0 975.0C1515.3 967.3 1516.7 966.3 1518.0 965.0C1519.3 963.7 1520.7 965.3 1522.0 967.0C1523.3 968.7 1524.8 970.7 1526.0 975.0C1527.2 979.3 1527.8 989.0 1529.0 993.0C1530.2 997.0 1531.8 999.3 1533.0 999.0C1534.2 998.7 1535.0 995.7 1536.0 991.0C1537.0 986.3 1538.0 974.7 1539.0 971.0C1540.0 967.3 1541.2 967.0 1542.0 969.0C1542.8 971.0 1543.3 975.3 1544.0 983.0C1544.7 990.7 1545.3 1007.5 1546.0 1015.0C1546.7 1022.5 1547.6 1027.0 1548.4 1028.0C1549.2 1029.0 1550.2 1027.2 1551.0 1021.0C1551.8 1014.8 1552.2 1001.3 1553.0 991.0C1553.8 980.7 1554.8 967.3 1556.0 959.0C1557.2 950.7 1558.7 944.5 1560.0 941.0C1561.3 937.5 1562.7 937.5 1564.0 938.0C1565.3 938.5 1566.8 944.5 1568.0 944.0C1569.2 943.5 1570.0 939.8 1571.0 935.0C1572.0 930.2 1573.0 920.3 1574.0 915.0C1575.0 909.7 1575.8 905.5 1577.0 903.0C1578.2 900.5 1579.8 899.3 1581.0 900.0C1582.2 900.7 1583.0 904.3 1584.0 907.0C1585.0 909.7 1586.0 915.0 1587.0 916.0C1588.0 917.0 1589.0 914.5 1590.0 913.0C1591.0 911.5 1591.8 908.2 1593.0 907.0C1594.2 905.8 1595.8 904.0 1597.0 906.0C1598.2 908.0 1598.8 912.2 1600.0 919.0C1601.2 925.8 1602.7 938.3 1604.0 947.0C1605.3 955.7 1606.7 964.0 1608.0 971.0C1609.3 978.0 1610.8 984.7 1612.0 989.0C1613.2 993.3 1614.0 996.3 1615.0 997.0C1616.0 997.7 1617.2 994.0 1618.0 993.0C1618.8 992.0 1619.2 994.7 1620.0 991.0C1620.8 987.3 1621.8 977.7 1623.0 971.0C1624.2 964.3 1626.0 955.3 1627.0 951.0C1628.0 946.7 1628.0 946.2 1629.0 945.0C1630.0 943.8 1631.8 942.7 1633.0 944.0C1634.2 945.3 1635.2 951.3 1636.0 953.0C1636.8 954.7 1637.3 957.0 1638.0 954.0C1638.7 951.0 1639.2 939.0 1640.0 935.0C1640.8 931.0 1642.0 930.0 1643.0 930.0C1644.0 930.0 1645.0 932.7 1646.0 935.0C1647.0 937.3 1648.0 942.5 1649.0 944.0C1650.0 945.5 1650.8 946.2 1652.0 944.0C1653.2 941.8 1654.7 936.2 1656.0 931.0C1657.3 925.8 1658.5 919.0 1660.0 913.0C1661.5 907.0 1663.3 901.3 1665.0 895.0C1666.7 888.7 1668.5 880.7 1670.0 875.0C1671.5 869.3 1673.0 864.2 1674.0 861.0C1675.0 857.8 1675.0 857.0 1676.0 856.0C1677.0 855.0 1678.5 855.2 1680.0 855.0C1681.5 854.8 1683.5 856.7 1685.0 855.0C1686.5 853.3 1687.5 848.3 1689.0 845.0C1690.5 841.7 1692.5 837.2 1694.0 835.0C1695.5 832.8 1696.7 832.7 1698.0 832.0C1699.3 831.3 1700.7 832.5 1702.0 831.0C1703.3 829.5 1704.3 826.0 1706.0 823.0C1707.7 820.0 1710.0 816.3 1712.0 813.0C1714.0 809.7 1716.0 805.3 1718.0 803.0C1720.0 800.7 1722.2 799.8 1724.0 799.0C1725.8 798.2 1727.7 796.3 1729.0 798.0C1730.3 799.7 1731.0 806.3 1732.0 809.0C1733.0 811.7 1734.0 814.3 1735.0 814.0C1736.0 813.7 1737.2 810.2 1738.0 807.0C1738.8 803.8 1739.0 797.2 1740.0 795.0C1741.0 792.8 1742.7 794.0 1744.0 794.0C1745.3 794.0 1746.7 795.1 1748.0 795.0C1749.3 794.9 1750.7 792.1 1752.0 793.4C1753.3 794.7 1754.8 798.4 1756.0 803.0C1757.2 807.6 1758.0 812.7 1759.0 821.0C1760.0 829.3 1761.1 843.0 1762.0 853.0C1762.9 863.0 1763.6 875.0 1764.4 881.0C1765.2 887.0 1766.1 889.0 1767.0 889.0C1767.9 889.0 1768.8 888.3 1769.6 881.0C1770.4 873.7 1771.1 857.3 1772.0 845.0C1772.9 832.7 1774.0 816.3 1775.0 807.0C1776.0 797.7 1776.8 793.0 1778.0 789.0C1779.2 785.0 1780.7 783.2 1782.0 783.0C1783.3 782.8 1784.8 784.7 1786.0 788.0C1787.2 791.3 1788.0 796.8 1789.0 803.0C1790.0 809.2 1791.1 817.3 1792.0 825.0C1792.9 832.7 1793.7 843.7 1794.4 849.0C1795.1 854.3 1795.7 857.0 1796.4 857.0C1797.1 857.0 1797.9 855.0 1798.6 849.0C1799.3 843.0 1799.9 828.7 1800.6 821.0C1801.3 813.3 1801.9 806.0 1803.0 803.0C1804.1 800.0 1805.7 802.3 1807.0 803.0C1808.3 803.7 1809.7 807.3 1811.0 807.0C1812.3 806.7 1813.8 802.5 1815.0 801.0C1816.2 799.5 1817.0 796.7 1818.0 798.0C1819.0 799.3 1820.0 803.8 1821.0 809.0C1822.0 814.2 1823.0 824.3 1824.0 829.0C1825.0 833.7 1826.0 835.0 1827.0 837.0C1828.0 839.0 1829.0 842.3 1830.0 841.0C1831.0 839.7 1832.0 834.7 1833.0 829.0C1834.0 823.3 1834.8 813.0 1836.0 807.0C1837.2 801.0 1838.7 796.0 1840.0 793.0C1841.3 790.0 1842.5 788.8 1844.0 789.0C1845.5 789.2 1847.3 791.0 1849.0 794.0C1850.7 797.0 1852.5 802.5 1854.0 807.0C1855.5 811.5 1856.8 817.0 1858.0 821.0C1859.2 825.0 1860.0 829.2 1861.0 831.0C1862.0 832.8 1863.0 832.8 1864.0 832.0C1865.0 831.2 1866.0 825.5 1867.0 826.0C1868.0 826.5 1869.1 833.2 1870.0 835.0C1870.9 836.8 1871.6 838.7 1872.4 837.0C1873.2 835.3 1874.1 828.7 1875.0 825.0C1875.9 821.3 1876.7 817.5 1878.0 815.0C1879.3 812.5 1881.2 811.0 1883.0 810.0C1884.8 809.0 1887.2 808.2 1889.0 809.0C1890.8 809.8 1892.7 810.3 1894.0 815.0C1895.3 819.7 1896.2 826.7 1897.0 837.0C1897.8 847.3 1898.3 865.7 1899.0 877.0C1899.7 888.3 1900.3 898.4 1901.0 905.0C1901.7 911.6 1902.3 915.6 1903.0 916.6C1903.7 917.6 1904.3 914.6 1905.0 911.0C1905.7 907.4 1906.2 899.7 1907.0 895.0C1907.8 890.3 1908.5 886.5 1910.0 883.0C1911.5 879.5 1914.0 875.8 1916.0 874.0C1918.0 872.2 1920.0 872.2 1922.0 872.0C1924.0 871.8 1926.3 873.8 1928.0 873.0C1929.7 872.2 1930.7 868.2 1932.0 867.0C1933.3 865.8 1934.7 865.2 1936.0 866.0C1937.3 866.8 1938.7 871.8 1940.0 872.0C1941.3 872.2 1942.7 868.0 1944.0 867.0C1945.3 866.0 1946.7 864.7 1948.0 866.0C1949.3 867.3 1950.7 871.8 1952.0 875.0C1953.3 878.2 1954.7 884.0 1956.0 885.0C1957.3 886.0 1958.7 881.7 1960.0 881.0C1961.3 880.3 1962.4 879.0 1963.6 881.0C1964.8 883.0 1966.1 887.3 1967.0 893.0C1967.9 898.7 1968.4 905.3 1969.0 915.0C1969.6 924.7 1969.9 939.7 1970.4 951.0C1970.9 962.3 1971.4 975.3 1972.0 983.0C1972.6 990.7 1973.3 995.7 1974.0 997.0C1974.7 998.3 1975.7 994.3 1976.4 991.0C1977.1 987.7 1977.6 979.7 1978.4 977.0C1979.2 974.3 1980.2 972.7 1981.0 975.0C1981.8 977.3 1982.3 985.0 1983.0 991.0C1983.7 997.0 1984.3 1002.7 1985.0 1011.0C1985.7 1019.3 1986.3 1031.0 1987.0 1041.0C1987.7 1051.0 1988.3 1062.7 1989.0 1071.0C1989.7 1079.3 1990.7 1087.7 1991.0 1091.0" stroke="#08b06c" stroke-width="7.6"/>
<path d="M120.7 1117.9C129.3 1117.6 158.0 1116.7 172.4 1116.2C186.8 1115.6 193.1 1114.6 206.9 1114.4C220.7 1114.3 243.1 1114.9 255.2 1115.5C267.2 1116.1 273.0 1116.3 279.3 1117.9C285.6 1119.4 287.9 1119.9 293.1 1124.8C298.3 1129.7 304.0 1138.6 310.3 1147.2C316.7 1155.8 324.1 1166.5 331.0 1176.5C337.9 1186.6 345.4 1197.8 351.7 1207.6C358.0 1217.3 363.8 1226.2 369.0 1235.1C374.1 1244.0 378.7 1252.1 382.8 1261.0C386.8 1269.9 389.7 1279.4 393.1 1288.6C396.6 1297.8 400.0 1307.6 403.4 1316.2C406.9 1324.8 409.8 1333.1 413.8 1340.3C417.8 1347.5 422.4 1354.4 427.6 1359.3C432.8 1364.2 439.7 1366.9 444.8 1369.6C450.0 1372.3 454.9 1374.0 458.6 1375.5C462.4 1376.9 464.4 1378.4 467.2 1378.2C470.1 1378.1 472.1 1377.7 475.9 1374.8C479.6 1371.9 484.5 1365.6 489.7 1361.0C494.8 1356.4 502.0 1350.7 506.9 1347.2C511.8 1343.8 515.8 1341.0 519.0 1340.3C522.1 1339.6 523.0 1340.2 525.9 1343.1C528.7 1345.9 533.0 1353.9 536.2 1357.6C539.4 1361.2 542.2 1364.1 544.8 1365.1C547.4 1366.2 549.1 1366.7 551.7 1363.8C554.3 1360.8 556.3 1357.4 560.3 1347.2C564.4 1337.0 570.4 1316.7 575.9 1302.4C581.3 1288.0 587.4 1273.1 593.1 1261.0C598.9 1248.9 604.6 1238.9 610.3 1230.0C616.1 1221.1 621.8 1214.2 627.6 1207.6C633.3 1200.9 639.9 1194.3 644.8 1190.3C649.7 1186.3 653.4 1183.7 656.9 1183.4C660.3 1183.1 662.9 1184.9 665.5 1188.6C668.1 1192.3 670.1 1200.1 672.4 1205.8C674.7 1211.6 676.7 1219.3 679.3 1223.1C681.9 1226.8 685.3 1228.5 687.9 1228.2C690.5 1228.0 692.7 1224.8 694.8 1221.3C697.0 1217.9 699.0 1211.9 700.7 1207.6C702.4 1203.2 703.6 1199.2 705.2 1195.5C706.8 1191.7 708.6 1187.3 710.3 1185.1C712.1 1183.0 712.9 1182.4 715.5 1182.4C718.1 1182.4 723.0 1186.4 725.9 1185.1C728.7 1183.9 730.5 1179.1 732.8 1174.8C735.1 1170.5 737.1 1163.0 739.7 1159.3C742.2 1155.5 743.4 1153.7 748.3 1152.4C753.2 1151.1 762.6 1152.5 769.0 1151.3C775.3 1150.2 780.5 1147.9 786.2 1145.5C792.0 1143.1 796.6 1139.9 803.4 1136.9C810.3 1133.8 819.0 1129.6 827.6 1127.2C836.2 1124.8 844.3 1123.8 855.2 1122.4C866.1 1121.0 878.7 1119.9 893.1 1118.9C907.5 1118.0 925.9 1117.4 941.4 1116.9C956.9 1116.3 976.7 1116.2 986.2 1115.5C995.7 1114.8 994.3 1112.9 998.3 1112.7C1002.3 1112.6 999.7 1114.0 1010.3 1114.4C1021.0 1114.9 1044.8 1115.5 1062.1 1115.5C1079.3 1115.4 1096.6 1115.0 1113.8 1114.1C1131.0 1113.2 1148.3 1111.1 1165.5 1110.0C1182.8 1108.9 1201.7 1108.2 1217.2 1107.6C1232.8 1106.9 1247.7 1105.8 1258.6 1105.8C1269.5 1105.8 1275.9 1106.3 1282.8 1107.6C1289.7 1108.8 1294.1 1109.5 1300.0 1113.4C1305.9 1117.3 1313.7 1126.1 1318.0 1131.0C1322.3 1135.9 1323.7 1138.0 1326.0 1143.0C1328.3 1148.0 1330.0 1154.0 1332.0 1161.0C1334.0 1168.0 1336.3 1176.3 1338.0 1185.0C1339.7 1193.7 1340.8 1202.3 1342.0 1213.0C1343.2 1223.7 1344.0 1235.7 1345.0 1249.0C1346.0 1262.3 1347.2 1279.7 1348.0 1293.0C1348.8 1306.3 1349.3 1317.7 1350.0 1329.0C1350.7 1340.3 1351.2 1349.7 1352.0 1361.0C1352.8 1372.3 1354.0 1386.3 1355.0 1397.0C1356.0 1407.7 1357.0 1416.3 1358.0 1425.0C1359.0 1433.7 1360.0 1442.3 1361.0 1449.0C1362.0 1455.7 1363.0 1460.8 1364.0 1465.0C1365.0 1469.2 1366.0 1472.3 1367.0 1474.0C1368.0 1475.7 1369.0 1475.8 1370.0 1475.0C1371.0 1474.2 1372.1 1472.7 1373.0 1469.0C1373.9 1465.3 1374.8 1459.0 1375.6 1453.0C1376.4 1447.0 1377.2 1440.3 1378.0 1433.0C1378.8 1425.7 1379.6 1415.7 1380.4 1409.0C1381.2 1402.3 1381.9 1396.0 1383.0 1393.0C1384.1 1390.0 1385.5 1391.0 1387.0 1391.0C1388.5 1391.0 1390.5 1393.3 1392.0 1393.0C1393.5 1392.7 1394.8 1391.3 1396.0 1389.0C1397.2 1386.7 1398.0 1383.7 1399.0 1379.0C1400.0 1374.3 1400.8 1369.3 1402.0 1361.0C1403.2 1352.7 1404.7 1340.3 1406.0 1329.0C1407.3 1317.7 1408.7 1305.0 1410.0 1293.0C1411.3 1281.0 1412.7 1267.7 1414.0 1257.0C1415.3 1246.3 1416.7 1236.7 1418.0 1229.0C1419.3 1221.3 1420.7 1215.0 1422.0 1211.0C1423.3 1207.0 1424.3 1206.7 1426.0 1205.0C1427.7 1203.3 1429.7 1202.5 1432.0 1201.0C1434.3 1199.5 1437.7 1198.3 1440.0 1196.0C1442.3 1193.7 1444.0 1189.5 1446.0 1187.0C1448.0 1184.5 1450.0 1182.3 1452.0 1181.0C1454.0 1179.7 1456.0 1178.8 1458.0 1179.0C1460.0 1179.2 1462.2 1179.7 1464.0 1182.0C1465.8 1184.3 1467.5 1187.2 1469.0 1193.0C1470.5 1198.8 1471.8 1207.7 1473.0 1217.0C1474.2 1226.3 1475.0 1239.7 1476.0 1249.0C1477.0 1258.3 1478.1 1268.0 1479.0 1273.0C1479.9 1278.0 1480.6 1279.0 1481.6 1279.0C1482.6 1279.0 1483.9 1276.0 1485.0 1273.0C1486.1 1270.0 1487.0 1264.3 1488.0 1261.0C1489.0 1257.7 1490.0 1254.2 1491.0 1253.0C1492.0 1251.8 1493.0 1252.3 1494.0 1254.0C1495.0 1255.7 1495.8 1260.8 1497.0 1263.0C1498.2 1265.2 1499.7 1267.3 1501.0 1267.0C1502.3 1266.7 1503.7 1265.3 1505.0 1261.0C1506.3 1256.7 1507.7 1248.3 1509.0 1241.0C1510.3 1233.7 1511.7 1223.3 1513.0 1217.0C1514.3 1210.7 1515.7 1205.7 1517.0 1203.0C1518.3 1200.3 1519.7 1200.3 1521.0 1201.0C1522.3 1201.7 1523.7 1203.0 1525.0 1207.0C1526.3 1211.0 1527.7 1219.7 1529.0 1225.0C1530.3 1230.3 1531.7 1236.3 1533.0 1239.0C1534.3 1241.7 1535.8 1241.8 1537.0 1241.0C1538.2 1240.2 1539.0 1235.3 1540.0 1234.0C1541.0 1232.7 1541.8 1232.2 1543.0 1233.0C1544.2 1233.8 1545.7 1237.8 1547.0 1239.0C1548.3 1240.2 1549.7 1240.7 1551.0 1240.0C1552.3 1239.3 1553.5 1237.8 1555.0 1235.0C1556.5 1232.2 1558.2 1227.0 1560.0 1223.0C1561.8 1219.0 1563.7 1214.0 1566.0 1211.0C1568.3 1208.0 1571.3 1208.3 1574.0 1205.0C1576.7 1201.7 1579.0 1195.0 1582.0 1191.0C1585.0 1187.0 1589.2 1183.7 1592.0 1181.0C1594.8 1178.3 1596.8 1176.1 1599.0 1175.0C1601.2 1173.9 1603.2 1173.9 1605.0 1174.6C1606.8 1175.3 1608.2 1177.7 1610.0 1179.0C1611.8 1180.3 1614.3 1182.3 1616.0 1182.6C1617.7 1182.9 1618.3 1181.6 1620.0 1181.0C1621.7 1180.4 1624.2 1180.2 1626.0 1179.0C1627.8 1177.8 1629.5 1175.3 1631.0 1174.0C1632.5 1172.7 1633.7 1171.2 1635.0 1171.4C1636.3 1171.6 1637.7 1172.1 1639.0 1175.0C1640.3 1177.9 1641.5 1184.0 1643.0 1189.0C1644.5 1194.0 1646.3 1200.3 1648.0 1205.0C1649.7 1209.7 1651.3 1214.3 1653.0 1217.0C1654.7 1219.7 1656.3 1220.4 1658.0 1221.0C1659.7 1221.6 1661.3 1221.6 1663.0 1220.6C1664.7 1219.6 1666.3 1217.9 1668.0 1215.0C1669.7 1212.1 1671.3 1207.7 1673.0 1203.0C1674.7 1198.3 1676.2 1192.3 1678.0 1187.0C1679.8 1181.7 1682.0 1175.5 1684.0 1171.0C1686.0 1166.5 1688.0 1162.7 1690.0 1160.0C1692.0 1157.3 1693.7 1156.7 1696.0 1155.0C1698.3 1153.3 1701.3 1152.2 1704.0 1150.0C1706.7 1147.8 1709.5 1144.4 1712.0 1142.0C1714.5 1139.6 1716.3 1136.9 1719.0 1135.4C1721.7 1133.9 1724.5 1134.1 1728.0 1133.0C1731.5 1131.9 1736.0 1129.7 1740.0 1129.0C1744.0 1128.3 1747.7 1129.4 1752.0 1128.6C1756.3 1127.8 1761.7 1125.1 1766.0 1124.0C1770.3 1122.9 1774.3 1121.8 1778.0 1122.0C1781.7 1122.2 1785.0 1123.3 1788.0 1125.0C1791.0 1126.7 1792.7 1128.7 1796.0 1132.0C1799.3 1135.3 1804.0 1140.3 1808.0 1145.0C1812.0 1149.7 1816.0 1155.5 1820.0 1160.0C1824.0 1164.5 1828.3 1168.2 1832.0 1172.0C1835.7 1175.8 1839.2 1180.3 1842.0 1183.0C1844.8 1185.7 1846.5 1187.0 1849.0 1188.0C1851.5 1189.0 1854.5 1187.5 1857.0 1189.0C1859.5 1190.5 1860.8 1193.3 1864.0 1197.0C1867.2 1200.7 1872.0 1206.3 1876.0 1211.0C1880.0 1215.7 1884.7 1221.0 1888.0 1225.0C1891.3 1229.0 1893.3 1231.0 1896.0 1235.0C1898.7 1239.0 1901.7 1244.0 1904.0 1249.0C1906.3 1254.0 1908.2 1260.3 1910.0 1265.0C1911.8 1269.7 1913.3 1273.7 1915.0 1277.0C1916.7 1280.3 1918.3 1282.5 1920.0 1285.0C1921.7 1287.5 1923.3 1290.5 1925.0 1292.0C1926.7 1293.5 1928.5 1294.7 1930.0 1294.0C1931.5 1293.3 1932.5 1289.2 1934.0 1288.0C1935.5 1286.8 1937.5 1286.7 1939.0 1287.0C1940.5 1287.3 1941.7 1288.0 1943.0 1290.0C1944.3 1292.0 1945.5 1296.8 1947.0 1299.0C1948.5 1301.2 1950.2 1302.8 1952.0 1303.0C1953.8 1303.2 1956.0 1300.8 1958.0 1300.0C1960.0 1299.2 1962.2 1297.5 1964.0 1298.0C1965.8 1298.5 1967.3 1300.5 1969.0 1303.0C1970.7 1305.5 1972.5 1308.7 1974.0 1313.0C1975.5 1317.3 1976.7 1322.7 1978.0 1329.0C1979.3 1335.3 1980.8 1343.0 1982.0 1351.0C1983.2 1359.0 1984.0 1368.7 1985.0 1377.0C1986.0 1385.3 1987.2 1393.0 1988.0 1401.0C1988.8 1409.0 1989.7 1421.0 1990.0 1425.0" stroke="#ff861e" stroke-width="7.6"/>
</g>
<rect x="121.1" y="34.9" width="1872.9" height="1505.4" fill="none" stroke="#000" stroke-width="5.8"/>
<path d="M120.4 77.2 V275.1" stroke="#585858" stroke-width="4.6" fill="none"/>
<path d="M118.1 81.0 H126" stroke="#585858" stroke-width="7.6" fill="none"/>
<path d="M120.4 271.3 V588.6" stroke="#ff4040" stroke-width="4.6" fill="none"/>
<path d="M118.1 275.1 H126" stroke="#ff4040" stroke-width="7.6" fill="none"/>
<path d="M120.4 584.8 V892.0" stroke="#0a78e8" stroke-width="4.6" fill="none"/>
<path d="M118.1 588.6 H126" stroke="#0a78e8" stroke-width="7.6" fill="none"/>
<path d="M120.4 926.2 V1117.9" stroke="#08b06c" stroke-width="4.6" fill="none"/>
<path d="M118.1 930.0 H126" stroke="#08b06c" stroke-width="7.6" fill="none"/>
<path d="M120.4 1114.1 V1538.0" stroke="#ff861e" stroke-width="4.6" fill="none"/>
<path d="M118.1 1117.9 H126" stroke="#ff861e" stroke-width="7.6" fill="none"/>
<text class="tick" x="120.6" y="1660">4000</text>
<text class="tick" x="388.2" y="1660">3500</text>
<text class="tick" x="655.7" y="1660">3000</text>
<text class="tick" x="923.3" y="1660">2500</text>
<text class="tick" x="1190.8" y="1660">2000</text>
<text class="tick" x="1458.4" y="1660">1500</text>
<text class="tick" x="1725.9" y="1660">1000</text>
<text class="tick" x="1993.5" y="1660">500</text>
<text class="lab" x="401.7" y="331.5" textLength="114.7" lengthAdjust="spacingAndGlyphs">3352</text>
<text class="lab" x="559.4" y="317.3" textLength="113.9" lengthAdjust="spacingAndGlyphs">3194</text>
<text class="lab" x="1223.6" y="269.4" textLength="115.4" lengthAdjust="spacingAndGlyphs">1673</text>
<text class="lab" x="1352.2" y="329.3" textLength="116.1" lengthAdjust="spacingAndGlyphs">1614</text>
<text class="lab" x="401.4" y="547.7" textLength="115.6" lengthAdjust="spacingAndGlyphs">3350</text>
<text class="lab" x="572.0" y="546.2" textLength="115.5" lengthAdjust="spacingAndGlyphs">3216</text>
<text class="lab" x="1198.4" y="547.7" textLength="115.1" lengthAdjust="spacingAndGlyphs">1673</text>
<text class="lab" x="1389.0" y="552.7" textLength="115.5" lengthAdjust="spacingAndGlyphs">1615</text>
<text class="lab" x="1305.0" y="807.7" textLength="114.5" lengthAdjust="spacingAndGlyphs">1723</text>
<text class="lab" x="260.0" y="1087.7" textLength="113.5" lengthAdjust="spacingAndGlyphs">3600</text>
<text class="lab" x="467.0" y="1167.3" textLength="113.5" lengthAdjust="spacingAndGlyphs">3320</text>
<text class="lab" x="382.5" y="1441.7" textLength="115.5" lengthAdjust="spacingAndGlyphs">3346</text>
<text class="lab" x="553.0" y="1445.2" textLength="114.0" lengthAdjust="spacingAndGlyphs">3190</text>
<text class="lab" x="1200.0" y="1492.5" textLength="117.0" lengthAdjust="spacingAndGlyphs">1654</text>
<text class="lab" x="1377.0" y="1441.7" textLength="114.5" lengthAdjust="spacingAndGlyphs">1609</text>
<text class="title" x="629" y="1819.7" style="font-kerning:none" textLength="566" lengthAdjust="spacing">Wavenumber</text>
<text x="1235" y="1819.7" style="font-size:82px">(</text>
<text class="title" x="1265" y="1819.7" textLength="121" lengthAdjust="spacingAndGlyphs">cm</text>
<text class="title" x="1391.5" y="1771.3" style="font-size:61px" textLength="33" lengthAdjust="spacingAndGlyphs">−</text>
<text class="title" x="1421" y="1769.7" style="font-size:61px">1</text>
<text x="1449.5" y="1820" style="font-size:106px">)</text>
</svg></body></html>
